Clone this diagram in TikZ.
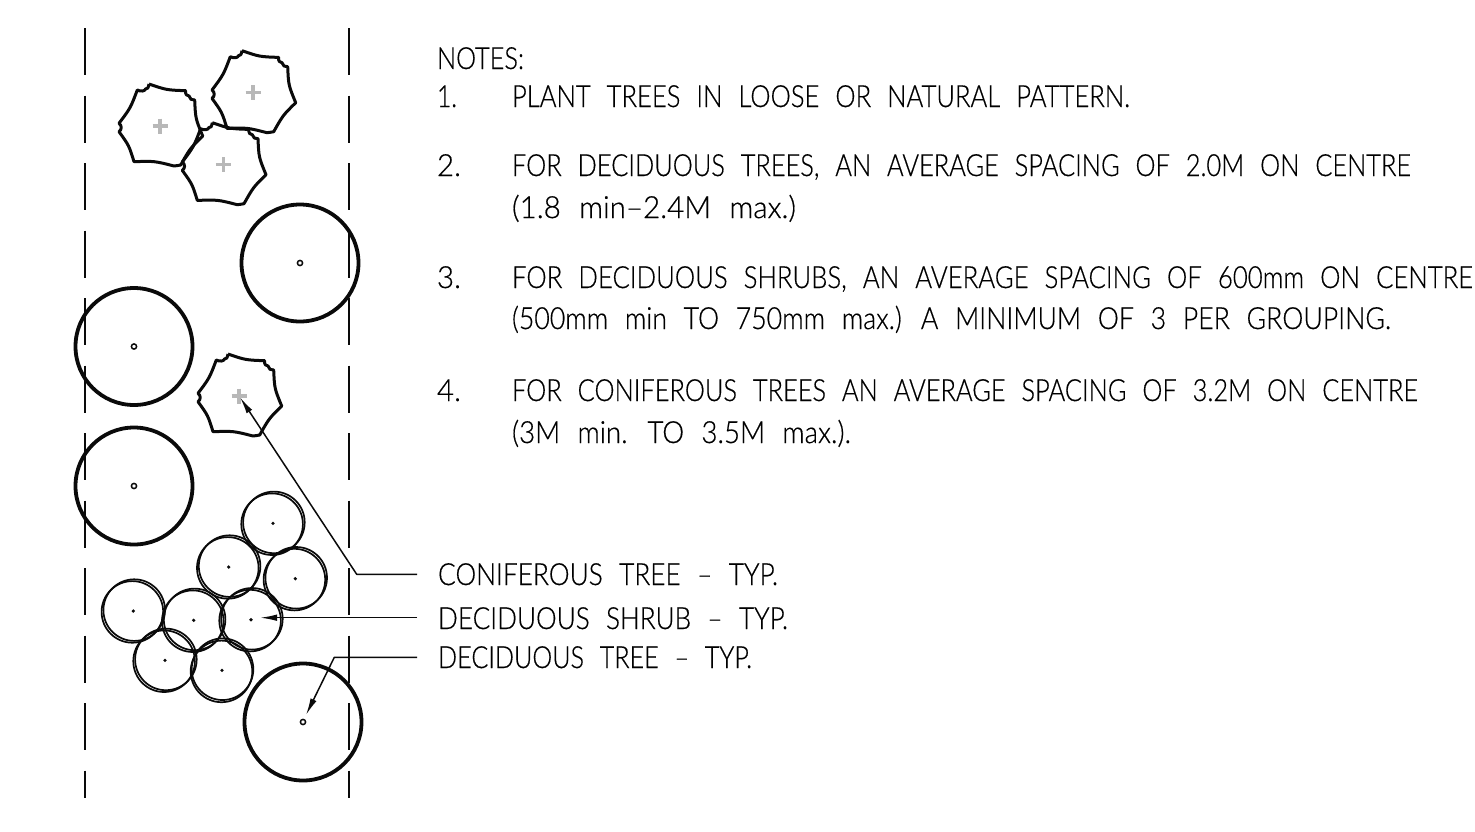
\documentclass[tikz,border=0pt]{standalone}
\usepackage{fontspec}
\usepackage{graphicx}
\setmainfont[WordSpace=2.3,UprightFont=* Light,UprightFeatures={FakeBold=0.5}]{Lato}
\usetikzlibrary{arrows.meta}
\definecolor{crossgray}{HTML}{B8B8B8}
\definecolor{ink}{HTML}{0A0A0A}
\tikzset{
  every picture/.append style={line join=round},
  centerline/.style={ink,line width=1.9pt,dash pattern=on 47pt off 20.5pt},
  treering/.style={ink,line width=3.8pt},
  treecore/.style={ink,line width=1.5pt},
  shrubring/.style={ink,line width=1.7pt},
  shrubdot/.style={ink,fill=ink,line width=0pt},
  leader/.style={ink,line width=1.5pt},
  leaderhead/.style={-{Latex[length=17pt,width=6.5pt,ink]}},
  notetext/.style={anchor=base west,inner sep=0pt,outer sep=0pt,text=black,font=\fontsize{30.5}{32}\selectfont},
  conif/.pic={
    \draw[ink,line width=3pt]
      (-11,-42) .. controls (6.5,-36) .. (25.7,-35.3)
      .. controls (25,-32) and (27,-29.5) .. (29,-30)
      .. controls (29.5,-27) and (32,-25.5) .. (34.7,-26)
      .. controls (35.5,-7.5) .. (42.7,10)
      .. controls (30,22.5) .. (20.7,39)
      .. controls (18.5,38) and (17.5,41) .. (14,40)
      .. controls (-5.5,35) .. (-26,35.7)
      .. controls (-31,19.5) .. (-41,5.7)
      .. controls (-38,3.5) and (-38,-0.5) .. (-41,-2.7)
      .. controls (-29.5,-18) .. (-22.7,-36)
      .. controls (-19,-34) and (-15,-35) .. (-14.5,-37)
      .. controls (-12,-37.5) .. (-11,-42);
    \draw[crossgray,line width=3.2pt] (-7.5,0) -- (7.5,0) (0,-7.5) -- (0,7.5);
  },
  decid/.pic={
    \draw[treering] (0,0) circle[radius=58.5];
    \draw[treecore] (0,0) circle[radius=2.6];
  },
}
\newcommand{\shrubat}[4]{%
  \draw[shrubring] (#1-0.5*#3,#2-0.5*#4) circle[radius=30.8];
  \draw[shrubring] (#1+0.5*#3,#2+0.5*#4) circle[radius=30.8];
  \fill[shrubdot] (#1,#2) circle[radius=1.8];
}
\newcommand{\noteline}[5]{% name, x, baseline, width, text
  \node[notetext] (#1) at (#2,#3) {\resizebox{#4pt}{\height}{#5}};
}
\begin{document}
\begin{tikzpicture}[x=1pt,y=-1pt]
\useasboundingbox (0,0) rectangle (1475,831);
\fill[white] (0,0) rectangle (1475,831);

% dashed limits
\coordinate (la) at (85,28); \coordinate (lb) at (85,798);
\coordinate (ra) at (349,28); \coordinate (rb) at (349,798);
\draw[centerline] (la) -- (lb);
\draw[centerline] (ra) -- (rb);

% coniferous trees
\pic at (160,126) {conif};
\pic at (253,92.7) {conif};
\pic at (223.3,164.7) {conif};
\pic at (239,396) {conif};

% deciduous trees
\pic at (300,263) {decid};
\pic at (134,346.5) {decid};
\pic at (134,486) {decid};
\pic at (303,722) {decid};

% shrubs
\shrubat{273}{523.3}{1.8}{-1.8}
\shrubat{228.7}{567}{-1.8}{1.8}
\shrubat{295.3}{578.7}{1.8}{-1.8}
\shrubat{133.3}{611}{1.8}{-1.8}
\shrubat{193.7}{620.3}{1.8}{-1.8}
\shrubat{251}{619.7}{1.8}{-1.8}
\shrubat{165}{660.3}{-1.8}{1.8}
\shrubat{222}{670.3}{-1}{2.2}

% notes
\noteline{notes}{437}{69}{87}{NOTES:}
\noteline{n1}{437}{107}{20}{1.}
\noteline{t1}{512}{107}{618}{PLANT TREES IN LOOSE OR NATURAL PATTERN.}
\noteline{n2}{437}{176}{24}{2.}
\noteline{t2}{512}{176}{899}{FOR DECIDUOUS TREES, AN AVERAGE SPACING OF 2.0M ON CENTRE}
\noteline{t2b}{512}{218}{284}{(1.8 min–2.4M max.)}
\noteline{n3}{437}{288}{24}{3.}
\noteline{t3}{512}{288}{961}{FOR DECIDUOUS SHRUBS, AN AVERAGE SPACING OF 600mm ON CENTRE}
\noteline{t3b}{512}{329}{879}{(500mm min TO 750mm max.) A MINIMUM OF 3 PER GROUPING.}
\noteline{n4}{437}{401}{24}{4.}
\noteline{t4}{512}{401}{906}{FOR CONIFEROUS TREES AN AVERAGE SPACING OF 3.2M ON CENTRE}
\noteline{t4b}{512}{443}{339}{(3M min. TO 3.5M max.).}

% labels
\noteline{lc}{438}{585}{340}{CONIFEROUS TREE – TYP.}
\noteline{ls}{438}{629}{350}{DECIDUOUS SHRUB – TYP.}
\noteline{lt}{438}{668}{314}{DECIDUOUS TREE – TYP.}

% leaders
\coordinate (cstart) at (417,574.3); \coordinate (celbow) at (356.7,574.3); \coordinate (ctip) at (240,397.3);
\coordinate (sstart) at (417,617.7); \coordinate (stip) at (260,617.7);
\coordinate (tstart) at (417,657.3); \coordinate (telbow) at (334.3,657.3); \coordinate (ttip) at (306,715);
\draw[leader,leaderhead] (cstart) -- (celbow) -- (ctip);
\draw[leader,leaderhead] (sstart) -- (stip);
\draw[leader,leaderhead] (tstart) -- (telbow) -- (ttip);
\end{tikzpicture}
\end{document}
